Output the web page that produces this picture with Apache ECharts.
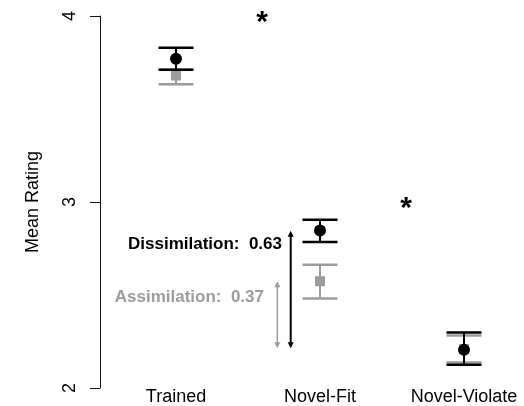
<!DOCTYPE html>
<html>
<head>
<meta charset="utf-8">
<script src="https://cdn.jsdelivr.net/npm/echarts@6/dist/echarts.min.js"></script>
<style>html,body{margin:0;padding:0;background:#fff}#c{width:524px;height:406px}</style>
</head>
<body>
<div id="c"></div>
<script>
const categories = ['Trained', 'Novel-Fit', 'Novel-Violate'];
const blackMean = [3.77, 2.847, 2.205];
const blackLow = [3.711, 2.785, 2.125];
const blackHigh = [3.829, 2.905, 2.298];
const grayMean = [3.68, 2.574, 2.21];
const grayLow = [3.633, 2.481, 2.137];
const grayHigh = [3.712, 2.663, 2.282];
const yTicks = [2, 3, 4];
const arrowCat = [1, 1];
const arrowFrom = [2.214, 2.214];
const arrowTo = [2.845, 2.574];
const arrowLabels = ['Dissimilation:  0.63', 'Assimilation:  0.37'];
const arrowLabelY = [2.77, 2.487];
const starLabels = ['*', '*'];
const starPos = [[0, 3.99], [2, 2.99]];

const BLACK = '#000000';
const GRAY = '#9c9c9c';
const FONT = 'Liberation Sans, Arial, Helvetica, sans-serif';

const chart = echarts.init(document.getElementById('c'), null, {renderer: 'canvas'});

function errRender(color, lw) {
  return function (params, api) {
    const c = api.value(0);
    const lo = api.coord([c, api.value(1)]);
    const hi = api.coord([c, api.value(2)]);
    const hw = 17.5;
    const style = {stroke: color, lineWidth: lw, fill: null};
    return {
      type: 'group',
      children: [
        {type: 'line', shape: {x1: lo[0], y1: lo[1], x2: hi[0], y2: hi[1]}, style: {stroke: color, lineWidth: 2}},
        {type: 'line', shape: {x1: lo[0] - hw, y1: lo[1], x2: lo[0] + hw, y2: lo[1]}, style: style},
        {type: 'line', shape: {x1: hi[0] - hw, y1: hi[1], x2: hi[0] + hw, y2: hi[1]}, style: style}
      ]
    };
  };
}

const arrowColors = [BLACK, GRAY];
const arrowOffsets = [-29.3, -42.7];
const arrowWidths = [2, 1.5];
const textGaps = [8.7, 13.3];

function arrowRender(params, api) {
  const i = params.dataIndex;
  const c = api.value(0);
  const a = api.coord([c, api.value(1)]);
  const b = api.coord([c, api.value(2)]);
  const t = api.coord([c, api.value(3)]);
  const x = a[0] + arrowOffsets[i];
  const col = arrowColors[i];
  const hl = 6, hw = 3;
  return {
    type: 'group',
    children: [
      {type: 'line', shape: {x1: x, y1: a[1] - 2, x2: x, y2: b[1] + 2}, style: {stroke: col, lineWidth: arrowWidths[i]}},
      {type: 'polygon', shape: {points: [[x, a[1]], [x - hw, a[1] - hl], [x + hw, a[1] - hl]]}, style: {fill: col}},
      {type: 'polygon', shape: {points: [[x, b[1]], [x - hw, b[1] + hl], [x + hw, b[1] + hl]]}, style: {fill: col}},
      {type: 'text', x: x - textGaps[i], y: t[1], style: {text: arrowLabels[i], fill: col, font: 'bold 17px ' + FONT, textAlign: 'right', textVerticalAlign: 'middle'}}
    ]
  };
}

function starRender(params, api) {
  const p = api.coord([api.value(0), api.value(1)]);
  const dx = params.dataIndex === 0 ? 86 : -58;
  return {type: 'text', x: p[0] + dx, y: p[1] + 5, style: {text: starLabels[params.dataIndex], fill: BLACK, font: 'bold 30px ' + FONT, textAlign: 'center', textVerticalAlign: 'middle'}};
}

const option = {
  animation: false,
  backgroundColor: '#fff',
  grid: {left: 176, width: 288, top: 16, bottom: 16},
  xAxis: {
    type: 'category',
    data: categories,
    boundaryGap: false,
    axisLine: {show: false},
    axisTick: {show: false},
    axisLabel: {show: true, interval: 0, margin: 0, color: '#000', fontSize: 18, fontFamily: FONT, verticalAlign: 'top'},
    splitLine: {show: false}
  },
  yAxis: {
    type: 'value',
    min: yTicks[0],
    max: yTicks[yTicks.length - 1],
    interval: 1,
    offset: 76,
    name: 'Mean Rating',
    nameLocation: 'middle',
    nameGap: 58,
    nameRotate: 90,
    nameTextStyle: {color: '#000', fontSize: 18, fontFamily: FONT},
    axisLine: {show: true, lineStyle: {color: '#111', width: 1}},
    axisTick: {show: true, length: 10, lineStyle: {color: '#111', width: 1}},
    axisLabel: {rotate: 90, margin: 21, color: '#000', fontSize: 18, fontFamily: FONT},
    splitLine: {show: false}
  },
  series: [
    {
      type: 'custom', name: 'grayErr', renderItem: errRender(GRAY, 2.5), z: 2,
      data: categories.map((c, i) => [i, grayLow[i], grayHigh[i]])
    },
    {
      type: 'scatter', name: 'grayMean', symbol: 'rect', symbolSize: 10, z: 3,
      itemStyle: {color: GRAY, opacity: 1},
      data: categories.map((c, i) => [i, grayMean[i]])
    },
    {
      type: 'custom', name: 'blackErr', renderItem: errRender(BLACK, 2.5), z: 4,
      data: categories.map((c, i) => [i, blackLow[i], blackHigh[i]])
    },
    {
      type: 'scatter', name: 'blackMean', symbol: 'circle', symbolSize: 12, z: 5,
      itemStyle: {color: BLACK, opacity: 1},
      data: categories.map((c, i) => [i, blackMean[i]])
    },
    {
      type: 'custom', name: 'arrows', renderItem: arrowRender, z: 6,
      data: arrowCat.map((c, i) => [c, arrowFrom[i], arrowTo[i], arrowLabelY[i]])
    },
    {
      type: 'custom', name: 'stars', renderItem: starRender, z: 6,
      data: starPos
    }
  ]
};
chart.setOption(option);
</script>
</body>
</html>
